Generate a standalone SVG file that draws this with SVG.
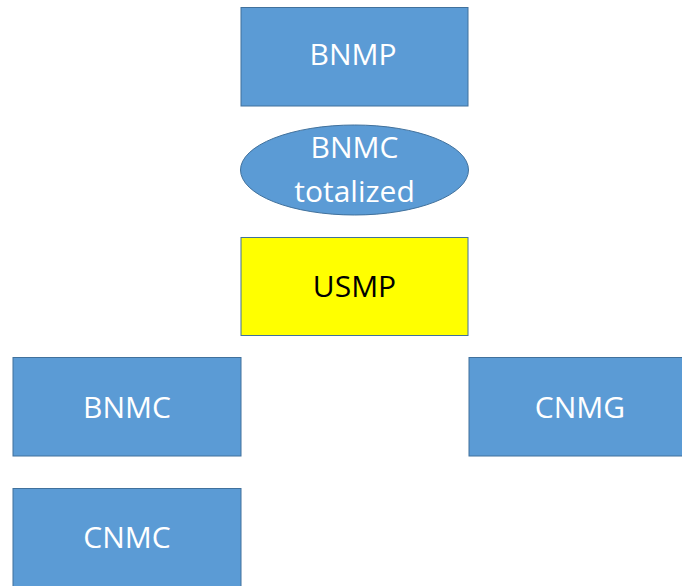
<svg xmlns="http://www.w3.org/2000/svg" width="682" height="586" viewBox="0 0 682 586">
<style>
.box{fill:#5B9BD5;stroke:#41719C;stroke-width:1}
.yel{fill:#FFFF00;stroke:#41719C;stroke-width:1}
.t{font-family:"Open Sans","Liberation Sans",sans-serif;font-size:30px;fill:#FFFFFF;text-anchor:middle}
.k{fill:#000000}
</style>
<rect width="682" height="586" fill="#FFFFFF"/>
<g id="connectors"></g>
<g id="bnmp">
<rect class="box" x="241" y="7.5" width="227" height="98.5"/>
<text class="t" x="353" y="65">BNMP</text>
</g>
<g id="bnmc-totalized">
<ellipse class="box" cx="354.5" cy="170" rx="114" ry="45"/>
<text class="t" x="354.5" y="158">BNMC</text>
<text class="t" x="354.5" y="202">totalized</text>
</g>
<g id="usmp">
<rect class="yel" x="241" y="237.5" width="227" height="98"/>
<text class="t k" x="354.5" y="297">USMP</text>
</g>
<g id="bnmc">
<rect class="box" x="13" y="357.5" width="228" height="98.5"/>
<text class="t" x="127" y="418">BNMC</text>
</g>
<g id="cnmg">
<rect class="box" x="469" y="357.5" width="224" height="98.5"/>
<text class="t" x="580" y="418">CNMG</text>
</g>
<g id="cnmc">
<rect class="box" x="13" y="488.5" width="228" height="110"/>
<text class="t" x="127" y="548">CNMC</text>
</g>
</svg>
